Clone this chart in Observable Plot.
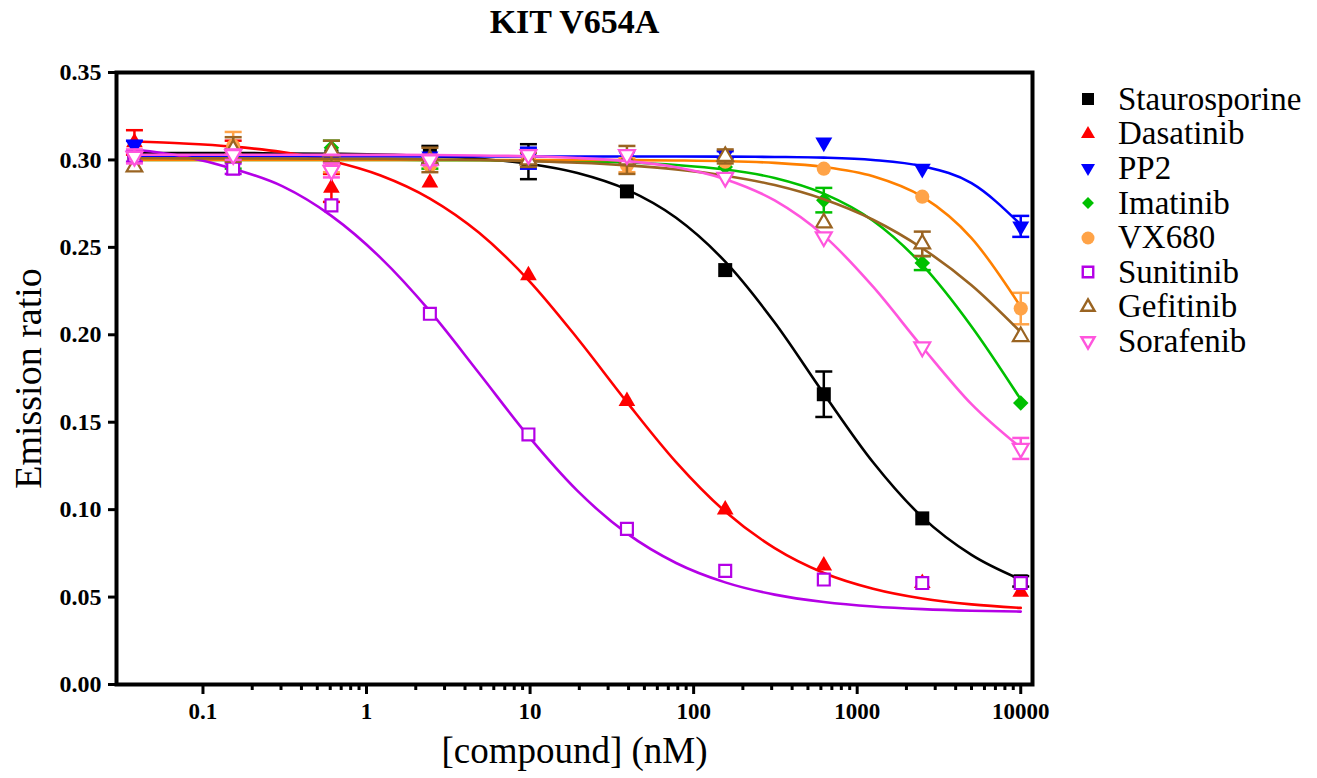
<!DOCTYPE html>
<html><head><meta charset="utf-8">
<script src="https://cdn.jsdelivr.net/npm/d3@7"></script>
<script src="https://cdn.jsdelivr.net/npm/@observablehq/plot@0.6"></script>
<style>
body{margin:0;background:#fff;}
#wrap{position:relative;width:1317px;height:778px;}
#legend{position:absolute;left:1072px;top:82px;color:#000;}
#legend span{font-family:"Liberation Serif","Times New Roman",serif;font-size:33px;}
.row{height:34.6px;display:flex;align-items:center;white-space:nowrap;}
.row svg{flex:none;margin-right:14px;}
</style></head><body><div id="wrap"><div id="legend"></div></div>
<script>
// ---- data ----
const title = "KIT V654A";
const xLabel = "[compound] (nM)";
const yLabel = "Emission ratio";
const doses = [0.0381, 0.153, 0.610, 2.44, 9.77, 39.1, 156, 625, 2500, 10000];
const xMajorTicks = [0.1, 1, 10, 100, 1000, 10000];
const xTickLabels = ["0.1", "1", "10", "100", "1000", "10000"];
const yTicks = [0, 0.05, 0.10, 0.15, 0.20, 0.25, 0.30, 0.35];
const compounds = ["Staurosporine", "Dasatinib", "PP2", "Imatinib", "VX680", "Sunitinib", "Gefitinib", "Sorafenib"];

// error = 0 where the bar is hidden by the symbol
const staurosporine    = [0.302, 0.303, 0.302, 0.303, 0.299, 0.282, 0.237, 0.166, 0.095, 0.059];
const staurosporineErr = [0, 0.003, 0, 0.005, 0.010, 0, 0, 0.013, 0, 0.003];
const dasatinib        = [0.310, 0.307, 0.284, 0.287, 0.234, 0.162, 0.100, 0.068, 0.058, 0.053];
const dasatinibErr     = [0.007, 0.004, 0.008, 0, 0, 0, 0, 0, 0, 0];
const pp2              = [0.308, 0.300, 0.300, 0.302, 0.301, 0.302, 0.303, 0.310, 0.295, 0.262];
const pp2Err           = [0.003, 0, 0, 0, 0.006, 0, 0.002, 0, 0, 0.006];
const imatinib         = [0.300, 0.298, 0.307, 0.298, 0.300, 0.300, 0.296, 0.277, 0.241, 0.161];
const imatinibErr      = [0, 0.003, 0.004, 0.003, 0, 0, 0, 0.007, 0.004, 0];
const vx680            = [0.300, 0.308, 0.296, 0.297, 0.301, 0.297, 0.299, 0.295, 0.279, 0.215];
const vx680Err         = [0, 0.008, 0.003, 0, 0, 0.004, 0, 0, 0, 0.009];
const sunitinib        = [0.302, 0.295, 0.274, 0.212, 0.143, 0.089, 0.065, 0.060, 0.058, 0.058];
const sunitinibErr     = [0.003, 0.003, 0, 0, 0, 0, 0, 0, 0, 0];
const gefitinib        = [0.296, 0.306, 0.305, 0.300, 0.300, 0.300, 0.302, 0.264, 0.252, 0.199];
const gefitinibErr     = [0, 0.007, 0.006, 0.007, 0.004, 0.008, 0.004, 0, 0.007, 0];
const sorafenib        = [0.302, 0.303, 0.294, 0.300, 0.303, 0.303, 0.290, 0.256, 0.193, 0.135];
const sorafenibErr     = [0.004, 0.003, 0.004, 0.003, 0, 0, 0, 0, 0, 0.006];

// fitted curves
const curveX = [0.0381, 0.0763, 0.153, 0.305, 0.610, 1.22, 2.44, 4.88, 9.77, 19.5, 39.1, 78.1, 156, 313, 625, 1250, 2500, 5000, 10000];
const staurosporineFit = [0.304, 0.304, 0.304, 0.3037, 0.3035, 0.3031, 0.3022, 0.3007, 0.2978, 0.2925, 0.283, 0.2669, 0.2418, 0.207, 0.1663, 0.1271, 0.0957, 0.0741, 0.0600];
const dasatinibFit     = [0.3105, 0.3094, 0.3076, 0.3045, 0.2994, 0.2911, 0.2779, 0.2583, 0.2313, 0.1979, 0.1615, 0.1272, 0.0989, 0.078, 0.0638, 0.0548, 0.0492, 0.0458, 0.0438];
const pp2Fit           = [0.302, 0.302, 0.302, 0.302, 0.302, 0.302, 0.302, 0.302, 0.302, 0.302, 0.302, 0.302, 0.3019, 0.3017, 0.3013, 0.300, 0.2964, 0.2867, 0.263];
const imatinibFit      = [0.300, 0.300, 0.300, 0.300, 0.300, 0.300, 0.2999, 0.2998, 0.2996, 0.2992, 0.2985, 0.2971, 0.2945, 0.2897, 0.2807, 0.2652, 0.240, 0.2048, 0.163];
const vx680Fit         = [0.300, 0.300, 0.300, 0.300, 0.300, 0.300, 0.300, 0.300, 0.300, 0.300, 0.2999, 0.2997, 0.2993, 0.2983, 0.296, 0.2907, 0.279, 0.2553, 0.216];
const sunitinibFit     = [0.306, 0.302, 0.295, 0.285, 0.268, 0.244, 0.2135, 0.178, 0.142, 0.1107, 0.0864, 0.0695, 0.0584, 0.0514, 0.0472, 0.0446, 0.0431, 0.0422, 0.0417];
const gefitinibFit     = [0.301, 0.3009, 0.3009, 0.3008, 0.3007, 0.3006, 0.3003, 0.300, 0.2993, 0.2984, 0.2969, 0.2946, 0.291, 0.2856, 0.2775, 0.2658, 0.2495, 0.2283, 0.2015];
const sorafenibFit     = [0.303, 0.303, 0.303, 0.303, 0.3029, 0.3029, 0.3028, 0.3025, 0.3021, 0.3011, 0.2993, 0.2958, 0.289, 0.2768, 0.2567, 0.2275, 0.193, 0.1603, 0.1354];

// ---- symbols ----
const sqrt3 = Math.sqrt(3);
const triangleDown = {draw(ctx, size) {
  const y = -Math.sqrt(size / (sqrt3 * 3));
  ctx.moveTo(0, -y * 2); ctx.lineTo(-sqrt3 * y, y); ctx.lineTo(sqrt3 * y, y); ctx.closePath();
}};
const cap = {draw(ctx, size) {
  const w = Math.sqrt(size / Math.PI);
  ctx.moveTo(-w, 0); ctx.lineTo(w, 0);
}};
const symbolOf = {square: d3.symbolSquare, triangle: d3.symbolTriangle, triangleDown, diamond2: d3.symbolDiamond2, circle: d3.symbolCircle};

const series = [
  {name: compounds[0], values: staurosporine, err: staurosporineErr, fit: staurosporineFit, color: "#000000", line: "#000000", eb: "#000000", symbol: "square", hollow: false, r: 7.9, leg: 144},
  {name: compounds[1], values: dasatinib, err: dasatinibErr, fit: dasatinibFit, color: "#ff0000", line: "#ff0000", eb: "#ff0000", symbol: "triangle", hollow: false, r: 6.2, leg: 85},
  {name: compounds[2], values: pp2, err: pp2Err, fit: pp2Fit, color: "#0000ff", line: "#0000ff", eb: "#0000ff", symbol: "triangleDown", hollow: false, r: 6.3, leg: 85},
  {name: compounds[3], values: imatinib, err: imatinibErr, fit: imatinibFit, color: "#00c000", line: "#00c000", eb: "#00c000", symbol: "diamond2", hollow: false, r: 7.0, leg: 90},
  {name: compounds[4], values: vx680, err: vx680Err, fit: vx680Fit, color: "#ffa347", line: "#ff8000", eb: "#ffa347", symbol: "circle", hollow: false, r: 7.1, leg: 133},
  {name: compounds[5], values: sunitinib, err: sunitinibErr, fit: sunitinibFit, color: "#b400e6", line: "#b400e6", eb: "#b400e6", symbol: "square", hollow: true, r: 6.7, leg: 110},
  {name: compounds[6], values: gefitinib, err: gefitinibErr, fit: gefitinibFit, color: "#9a6422", line: "#9a6422", eb: "#9a6422", symbol: "triangle", hollow: true, r: 5.8, leg: 75},
  {name: compounds[7], values: sorafenib, err: sorafenibErr, fit: sorafenibFit, color: "#ff55dd", line: "#ff55dd", eb: "#ff55dd", symbol: "triangleDown", hollow: true, r: 5.9, leg: 75}
];

// minor ticks 2..9 per decade from 0.1 to 10000
const xMinorTicks = [];
for (const base of [0.1, 1, 10, 100, 1000]) for (let k = 2; k <= 9; k++) xMinorTicks.push(+(base * k).toPrecision(3));
const xLabelOf = d => {
  const i = xMajorTicks.findIndex(t => Math.abs(t - d) / t < 1e-6);
  return i < 0 ? "" : xTickLabels[i];
};

const serif = "'Liberation Serif','Times New Roman',serif";
const marks = [];
for (const s of series) {
  const pts = doses.map((d, i) => ({x: d, y: s.values[i], e: s.err[i]}));
  const bars = pts.filter(d => d.e > 0);
  const fit = curveX.map((d, i) => ({x: d, y: s.fit[i]}));
  marks.push(Plot.ruleX(bars, {x: "x", y1: d => d.y - d.e, y2: d => d.y + d.e, stroke: s.eb, strokeWidth: 2.5}));
  marks.push(Plot.dot(bars, {x: "x", y: d => d.y + d.e, symbol: cap, r: 8.5, stroke: s.eb, strokeWidth: 2.5, fill: "none"}));
  marks.push(Plot.dot(bars, {x: "x", y: d => d.y - d.e, symbol: cap, r: 8.5, stroke: s.eb, strokeWidth: 2.5, fill: "none"}));
  marks.push(Plot.line(fit, {x: "x", y: "y", stroke: s.line, strokeWidth: 2.6, curve: "monotone-x"}));
  marks.push(Plot.dot(pts, {x: "x", y: "y", symbol: symbolOf[s.symbol], r: s.r,
    fill: s.hollow ? "white" : s.color, stroke: s.hollow ? s.color : "none", strokeWidth: 2.2}));
}

const chart = Plot.plot({
  width: 1317, height: 778,
  marginLeft: 116, marginRight: 285, marginTop: 72, marginBottom: 94,
  style: {fontFamily: serif, background: "white", color: "black"},
  x: {type: "log", domain: [0.0296, 11800]},
  y: {domain: [0, 0.35]},
  marks: [
    ...marks,
    Plot.axisY({ticks: yTicks, tickFormat: d3.format(".2f"), tickSize: 8, tickPadding: 7, strokeWidth: 3, fontSize: 24, fontWeight: "bold", fontFamily: serif, label: null}),
    Plot.axisX({ticks: xMinorTicks, tickSize: 6, strokeWidth: 3, tickFormat: () => "", label: null}),
    Plot.axisX({ticks: xMajorTicks, tickSize: 10, tickPadding: 8, strokeWidth: 3, tickFormat: xLabelOf, fontSize: 23, fontWeight: "bold", fontFamily: serif, label: null}),
    Plot.frame({stroke: "black", strokeWidth: 4}),
    Plot.text([yLabel], {frameAnchor: "left", textAnchor: "middle", lineAnchor: "middle", rotate: -90, dx: -88, fontSize: 38, fontFamily: serif}),
    Plot.text([xLabel], {frameAnchor: "bottom", textAnchor: "middle", lineAnchor: "middle", dy: 67, fontSize: 37, fontFamily: serif}),
    Plot.text([title], {frameAnchor: "top", textAnchor: "middle", lineAnchor: "middle", dy: -50, fontSize: 34, fontWeight: "bold", fontFamily: serif})
  ]
});
document.getElementById("wrap").prepend(chart);

// legend
const legend = d3.select("#legend");
for (const s of series) {
  const row = legend.append("div").attr("class", "row");
  const svg = row.append("svg").attr("width", 32).attr("height", 34).attr("viewBox", "-16 -17 32 34");
  svg.append("path").attr("d", d3.symbol(symbolOf[s.symbol], s.leg)())
    .attr("fill", s.hollow ? "white" : s.color)
    .attr("stroke", s.hollow ? s.color : "none")
    .attr("stroke-width", 2.4);
  row.append("span").text(s.name);
}
</script></body></html>
